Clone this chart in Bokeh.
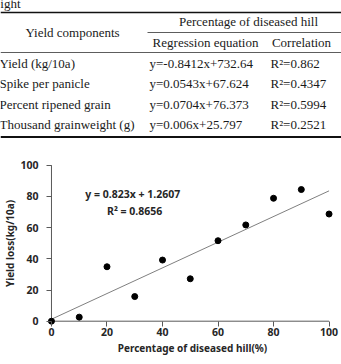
from bokeh.plotting import figure
from bokeh.layouts import column
from bokeh.models import FixedTicker
from bokeh.core.properties import value
from bokeh.embed import file_html
from bokeh.resources import INLINE

# ---------------- data ----------------
components = ["Yield (kg/10a)", "Spike per panicle", "Percent ripened grain",
              "Thousand grainweight (g)"]
equations = ["y=-0.8412x+732.64", "y=0.0543x+67.624", "y=0.0704x+76.373",
             "y=0.006x+25.797"]
correlations = ["R\u00b2=0.862", "R\u00b2=0.4347", "R\u00b2=0.5994", "R\u00b2=0.2521"]
header_main = "Yield components"
header_group = "Percentage of diseased hill"
header_sub = ["Regression equation", "Correlation"]
caption_fragment = "eight"

diseased_pct = [0, 10, 20, 30, 40, 50, 60, 70, 80, 90, 100]
yield_loss = [0, 2.6, 34.9, 15.8, 39.2, 27.2, 51.6, 61.7, 78.8, 84.4, 68.7]
slope = 0.823
intercept = 1.2607
r_squared = 0.8656
x_ticks = [0, 20, 40, 60, 80, 100]
y_ticks = [0, 20, 40, 60, 80, 100]

# ---------------- table ----------------
SERIF = value("Liberation Serif")
FS = "13px"
TXT = "#1a1a1a"
t = figure(width=341, height=140, x_range=(0, 341), y_range=(140, 0),
           x_axis_location=None, y_axis_location=None,
           output_backend="svg", toolbar_location=None, min_border=0,
           frame_align=False)
t.grid.visible = False
t.outline_line_color = None

t.text(x=[-6], y=[3], text=[caption_fragment], text_font=SERIF,
       text_font_size=FS, text_baseline="alphabetic", text_color=TXT)

# rules
t.segment(x0=[0], y0=[12], x1=[341], y1=[12], line_color="#111111", line_width=1.6)
t.segment(x0=[147], y0=[32], x1=[341], y1=[32], line_color="#333333", line_width=0.8)
t.segment(x0=[0], y0=[52], x1=[341], y1=[52], line_color="#333333", line_width=0.8)
t.segment(x0=[0], y0=[136.5], x1=[341], y1=[136.5], line_color="#111111", line_width=1.8)

t.text(x=[72], y=[32], text=[header_main], text_font=SERIF, text_font_size=FS,
       text_align="center", text_baseline="middle", text_color=TXT)
t.text(x=[248], y=[21], text=[header_group], text_font=SERIF, text_font_size=FS,
       text_align="center", text_baseline="middle", text_color=TXT)
t.text(x=[205, 301], y=[42, 42], text=header_sub, text_font=SERIF,
       text_font_size=FS, text_align="center", text_baseline="middle",
       text_color=TXT)

row_y = [63 + i * 20.4 for i in range(len(components))]
t.text(x=[-1] * len(components), y=row_y, text=components, text_font=SERIF,
       text_font_size=FS, text_baseline="middle", text_color=TXT)
t.text(x=[149] * len(equations), y=row_y, text=equations, text_font=SERIF,
       text_font_size=FS, text_baseline="middle", text_color=TXT)
t.text(x=[270] * len(correlations), y=row_y, text=correlations, text_font=SERIF,
       text_font_size=FS, text_baseline="middle", text_color=TXT)

# ---------------- chart ----------------
SANS = "Noto Sans"
XS, YS = 2.795, 1.56          # px per data unit
p = figure(width=341, height=224,
           x_range=(-4 / XS, -4 / XS + 292 / XS),
           y_range=(-4.3 / YS, -4.3 / YS + 164 / YS),
           output_backend="svg", toolbar_location=None,
           min_border_left=45, min_border_right=4, min_border_top=21,
           min_border_bottom=39, frame_align=False)
p.grid.visible = False
p.outline_line_color = None

for ax, ticks in ((p.xaxis, x_ticks), (p.yaxis, y_ticks)):
    ax.ticker = FixedTicker(ticks=ticks)
    ax.axis_line_color = None
    ax.major_tick_line_color = "#595959"
    ax.major_tick_in = 4
    ax.major_tick_out = 1
    ax.minor_tick_line_color = None
    ax.major_label_text_font = SANS
    ax.major_label_text_font_style = "bold"
    ax.major_label_text_font_size = "10.5px"
    ax.major_label_text_color = "#262626"
    ax.axis_label_text_font = SANS
    ax.axis_label_text_font_style = "bold"
    ax.axis_label_text_font_size = "10px"
    ax.axis_label_text_color = "#262626"

p.xaxis.axis_label = "Percentage of diseased hill(%)"
p.yaxis.axis_label = "Yield loss(kg/10a)"
p.xaxis.major_label_standoff = 1
p.xaxis.axis_label_standoff = 2
p.yaxis.major_label_standoff = 8
p.yaxis.axis_label_standoff = 0

# axis lines drawn at data zero
p.segment(x0=[x_ticks[0], x_ticks[0]], y0=[y_ticks[0], y_ticks[0]],
          x1=[x_ticks[-1], x_ticks[0]], y1=[y_ticks[0], y_ticks[-1]],
          line_color="#595959", line_width=1)

trend_x = [min(diseased_pct), max(diseased_pct)]
trend_y = [slope * x + intercept for x in trend_x]
p.line(trend_x, trend_y, line_color="#808080", line_width=1)
p.scatter(diseased_pct, yield_loss, size=6, color="black")

p.text(x=[12.2], y=[81.4], text=[f"y = {slope}x + {intercept}"],
       text_font=value(SANS), text_font_style="bold", text_font_size="10.5px",
       text_baseline="middle", text_color="#262626")
p.text(x=[20.0], y=[70.5], text=[f"R\u00b2 = {r_squared}"],
       text_font=value(SANS), text_font_style="bold", text_font_size="10.5px",
       text_baseline="middle", text_color="#262626")

layout = column(t, p, spacing=0)
open("out.html", "w").write(file_html(layout, INLINE))
